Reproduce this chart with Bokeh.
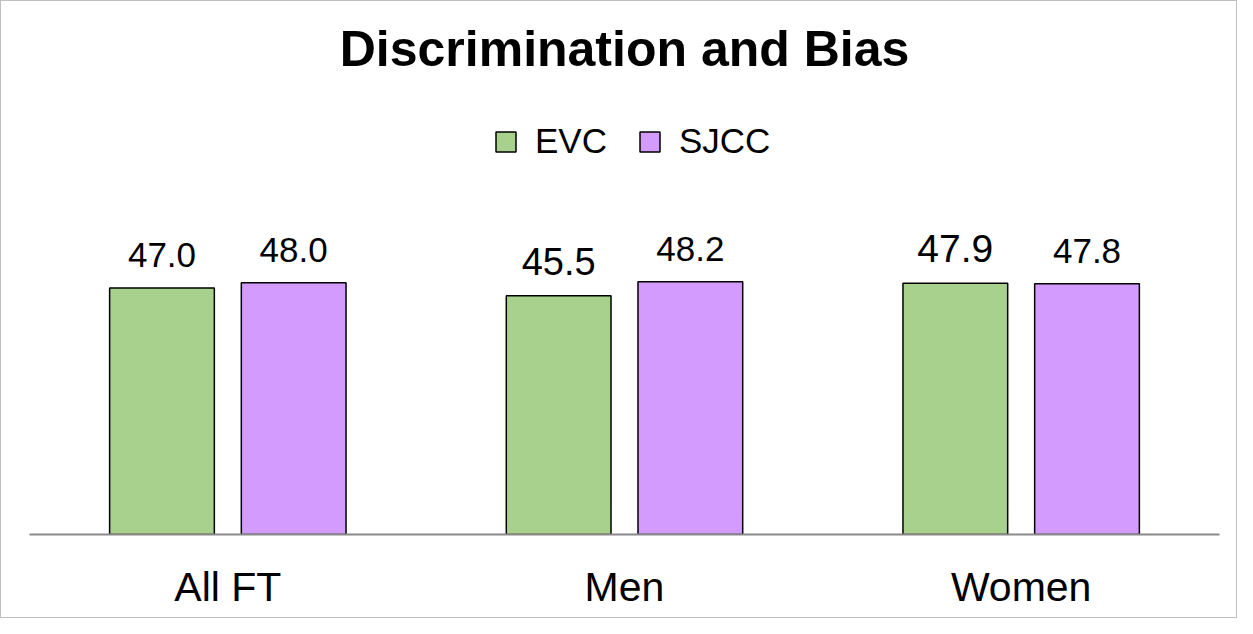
from bokeh.plotting import figure
from bokeh.models import FactorRange, Range1d, ColumnDataSource, LabelSet, Legend, LegendItem
from bokeh.core.properties import value
from bokeh.transform import dodge
from bokeh.embed import file_html
from bokeh.resources import INLINE

# ---- data ----
categories = ["All FT", "Men", "Women"]
series = ["EVC", "SJCC"]
evc = [47.0, 45.5, 47.9]
sjcc = [48.0, 48.2, 47.8]

# ---- styles ----
colors = ["#A9D18E", "#D29BFD"]
evc_label_sizes = ["35px", "38px", "39px"]
sjcc_label_sizes = ["35px", "35px", "35px"]

W, H = 1237, 618
p = figure(x_range=FactorRange(*categories), y_range=Range1d(0, 87.3),
           width=W, height=H, output_backend="svg", toolbar_location=None,
           min_border_left=28, min_border_right=19, min_border_bottom=85, min_border_top=0)

p.title.text = "Discrimination and Bias"
p.title.align = "center"
p.title.text_font = "Liberation Sans"
p.title.text_font_style = "bold"
p.title.text_font_size = "50px"
p.title.text_color = "black"
p.title.standoff = 0
p.title.padding = dict(top=17, bottom=0, left=0, right=0)

p.x_range.range_padding = 0
p.outline_line_color = None
p.xgrid.grid_line_color = None
p.ygrid.grid_line_color = None
p.yaxis.visible = False
p.xaxis.axis_line_color = "#898989"
p.xaxis.axis_line_width = 2
p.xaxis.major_tick_line_color = None
p.xaxis.minor_tick_line_color = None
p.xaxis.major_label_text_font = "Liberation Sans"
p.xaxis.major_label_text_font_size = "41px"
p.xaxis.major_label_text_color = "black"
p.xaxis.major_label_standoff = 23
p.styles = {"border": "1px solid #BFBFBF"}

src = ColumnDataSource(dict(cats=categories, evc=evc, sjcc=sjcc,
                            evc_txt=[f"{v:.1f}" for v in evc],
                            sjcc_txt=[f"{v:.1f}" for v in sjcc],
                            evc_fs=evc_label_sizes, sjcc_fs=sjcc_label_sizes))

off = 0.166
bw = 0.264
r1 = p.vbar(x=dodge("cats", -off, range=p.x_range), top="evc", width=bw, source=src,
            fill_color=colors[0], line_color="black", line_width=1.5)
r2 = p.vbar(x=dodge("cats", off, range=p.x_range), top="sjcc", width=bw, source=src,
            fill_color=colors[1], line_color="black", line_width=1.5)

for col, txt, fs, o in [("evc", "evc_txt", "evc_fs", -off), ("sjcc", "sjcc_txt", "sjcc_fs", off)]:
    ls = LabelSet(x=dodge("cats", o, range=p.x_range), y=col, text=txt, source=src,
                  text_align="center", text_baseline="bottom", y_offset=21,
                  text_font=value("Liberation Sans"), text_font_size={"field": fs},
                  text_color="black")
    p.add_layout(ls)

legend = Legend(items=[LegendItem(label=series[0], renderers=[r1]),
                       LegendItem(label=series[1], renderers=[r2])],
                orientation="horizontal", location=(464, 373),
                label_text_font="Liberation Sans", label_text_font_size="35px",
                label_text_color="black",
                glyph_width=25, glyph_height=25, label_standoff=17, spacing=30,
                padding=0, margin=0, border_line_color=None, background_fill_alpha=0)
p.add_layout(legend, "center")

open("out.html", "w").write(file_html(p, INLINE))
